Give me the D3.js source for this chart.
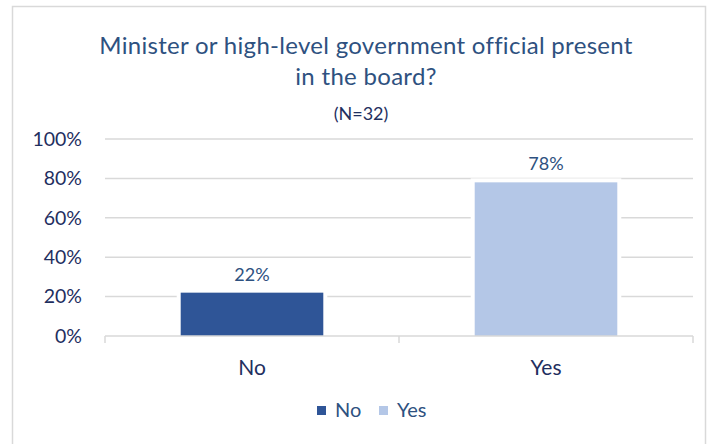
<!DOCTYPE html>
<html>
<head>
<meta charset="utf-8">
<script src="https://cdn.jsdelivr.net/npm/d3@7"></script>
<style>
  html, body { margin: 0; padding: 0; background: #fff; }
  svg { display: block; font-family: Lato, "Open Sans", sans-serif; }
</style>
</head>
<body>
<svg id="chart" width="711" height="444"></svg>
<script>
// Survey answers and their shares (percent of N=32)
const categories = ["No", "Yes"];
const values = [22, 78];
const barColors = ["#2F5597", "#B4C7E7"];
const yTicks = [0, 20, 40, 60, 80, 100];
const titleLines = ["Minister or high-level government official present", "in the board?"];
const subtitle = "(N=32)";

const svg = d3.select("#chart");

// outer frame of the chart area
svg.append("rect")
  .attr("x", 12.5).attr("y", 6.5)
  .attr("width", 693).attr("height", 450)
  .attr("fill", "#fff").attr("stroke", "#D9D9D9").attr("stroke-width", 1.5);

const plot = { left: 105, right: 693, top: 139, bottom: 336 };

const x = d3.scaleBand()
  .domain(categories)
  .range([plot.left, plot.right])
  .paddingInner(0.515)
  .paddingOuter(0.2575);

const y = d3.scaleLinear().domain([0, 100]).range([plot.bottom, plot.top]);

// title
const title = svg.append("text")
  .attr("text-anchor", "middle")
  .attr("fill", "#2E5180")
  .attr("font-size", 24)
  .attr("letter-spacing", 0.3);
titleLines.forEach((t, i) => {
  title.append("tspan").attr("x", 366).attr("y", 54 + i * 31).text(t);
});
svg.append("text")
  .attr("x", 361).attr("y", 120)
  .attr("text-anchor", "middle")
  .attr("fill", "#1F2F5F")
  .attr("font-size", 18)
  .text(subtitle);

// horizontal gridlines
svg.append("g")
  .selectAll("line")
  .data(yTicks.filter(d => d > 0))
  .join("line")
  .attr("x1", plot.left).attr("x2", plot.right)
  .attr("y1", d => y(d)).attr("y2", d => y(d))
  .attr("stroke", "#D9D9D9").attr("stroke-width", 1.5);

// y axis labels
const yAxis = d3.axisLeft(y)
  .tickValues(yTicks)
  .tickFormat(d => d + "%")
  .tickSize(0)
  .tickPadding(0);
const yg = svg.append("g").attr("transform", `translate(82,0)`).call(yAxis);
yg.select(".domain").remove();
yg.selectAll("text")
  .attr("fill", "#1F2F5F")
  .attr("font-size", 19.5)
  .attr("font-family", "Lato, 'Open Sans', sans-serif");

// bars with a white halo that breaks the gridlines
const bars = svg.append("g");
bars.selectAll("rect.halo")
  .data(values)
  .join("rect")
  .attr("class", "halo")
  .attr("x", (d, i) => x(categories[i]) - 4)
  .attr("width", x.bandwidth() + 8)
  .attr("y", d => y(d) - 4)
  .attr("height", d => y(0) - y(d) + 4)
  .attr("fill", "#fff");
bars.selectAll("rect.bar")
  .data(values)
  .join("rect")
  .attr("class", "bar")
  .attr("x", (d, i) => x(categories[i]))
  .attr("width", x.bandwidth())
  .attr("y", d => y(d))
  .attr("height", d => y(0) - y(d))
  .attr("fill", (d, i) => barColors[i]);

// value labels
bars.selectAll("text")
  .data(values)
  .join("text")
  .attr("x", (d, i) => x(categories[i]) + x.bandwidth() / 2)
  .attr("y", d => y(d) - 12)
  .attr("text-anchor", "middle")
  .attr("fill", "#2E5180")
  .attr("font-size", 18)
  .text(d => d + "%");

// x axis line with category boundary ticks
const xg = svg.append("g");
xg.append("line")
  .attr("x1", plot.left).attr("x2", plot.right)
  .attr("y1", y(0)).attr("y2", y(0))
  .attr("stroke", "#D9D9D9").attr("stroke-width", 1.5);
const bounds = [plot.left, plot.left + (plot.right - plot.left) / 2, plot.right];
xg.selectAll("line.tick")
  .data(bounds)
  .join("line")
  .attr("class", "tick")
  .attr("x1", d => d).attr("x2", d => d)
  .attr("y1", y(0)).attr("y2", y(0) + 7)
  .attr("stroke", "#D9D9D9").attr("stroke-width", 1.5);
xg.selectAll("text")
  .data(categories)
  .join("text")
  .attr("x", d => x(d) + x.bandwidth() / 2)
  .attr("y", 375)
  .attr("text-anchor", "middle")
  .attr("fill", "#1F2F5F")
  .attr("font-size", 21)
  .text(d => d);

// legend
const legendItems = [
  { label: categories[0], color: barColors[0], x: 317 },
  { label: categories[1], color: barColors[1], x: 379 }
];
const lg = svg.append("g");
legendItems.forEach(it => {
  lg.append("rect")
    .attr("x", it.x).attr("y", 406)
    .attr("width", 9).attr("height", 9)
    .attr("fill", it.color);
  lg.append("text")
    .attr("x", it.x + 18).attr("y", 417)
    .attr("fill", "#2E5180")
    .attr("font-size", 20)
    .text(it.label);
});
</script>
</body>
</html>
